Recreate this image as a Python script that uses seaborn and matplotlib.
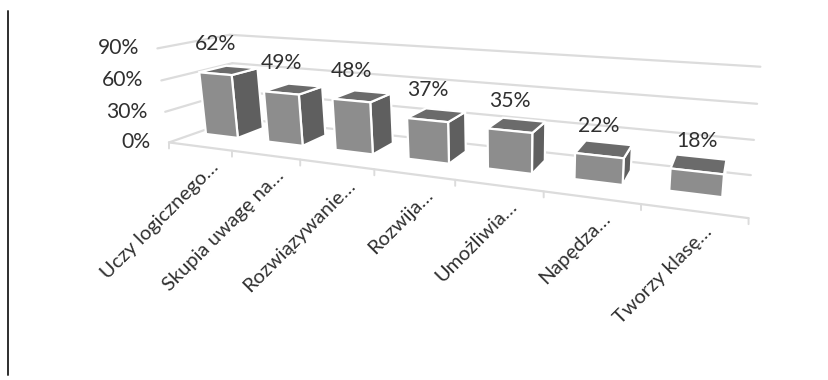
import numpy as np
import pandas as pd
import matplotlib
matplotlib.use("Agg")
import matplotlib.pyplot as plt
from matplotlib.patches import Polygon
from matplotlib.transforms import Transform, IdentityTransform
import seaborn as sns

# ---- data
categories = ["Uczy logicznego…", "Skupia uwagę na…", "Rozwiązywanie…", "Rozwija…",
              "Umożliwia…", "Napędza…", "Tworzy klasę…"]
shares = [62, 49, 48, 37, 35, 22, 18]
value_ticks = [0, 30, 60, 90]

# ---- camera of the 3-D box: (category edge, value, depth) -> pixel
U = len(categories)
calib = [((0, 0, 0), (169, 142)), ((2, 0, 0), (300, 159)), ((4, 0, 0), (455, 179.5)), ((7, 0, 0), (749, 218)),
         ((0, 30, 0), (165, 112)), ((0, 60, 0), (162, 81)), ((0, 90, 0), (157, 49)),
         ((0, 0, 1), (238, 120)), ((0, 30, 1), (235, 90)), ((0, 60, 1), (232, 63)), ((0, 90, 1), (230, 34)),
         ((7, 0, 1), (750, 175)), ((7, 30, 1), (755, 140)), ((7, 60, 1), (757, 104)), ((7, 90, 1), (760, 67))]
rows = []
for (a, b, c), (px, py) in calib:
    X = [a / 7, b / 90, c, 1]
    px, py = px / 400, py / 400
    rows.append(X + [0, 0, 0, 0] + [-px * k for k in X])
    rows.append([0, 0, 0, 0] + X + [-py * k for k in X])
P = np.linalg.svd(np.array(rows))[2][-1].reshape(3, 4)


def project(u, v, d):
    u = np.asarray(u, float)
    X = np.stack([u / 7, np.asarray(v, float) / 90, np.full_like(u, d), np.ones_like(u)])
    h = P @ X
    return (h[:2] / h[2] * 400).T


H = 380
PIX = IdentityTransform()
BAR_SHIFT = -0.08


def nudge(u):
    """Bars sit slightly left of their category centres, fading to the right."""
    return np.asarray(u, float) + BAR_SHIFT * (1 - np.asarray(u, float) / 9)


class Box(Transform):
    """Seaborn's (category, value) coordinates -> display, on one depth plane."""
    input_dims = output_dims = 2

    def __init__(self, plane, bars=False):
        super().__init__()
        self.plane = plane
        self.bars = bars

    def transform_non_affine(self, xy):
        xy = np.asarray(xy, float)
        u = xy[:, 0] + 0.5
        p = project(nudge(u) if self.bars else u, xy[:, 1], self.plane)
        return np.column_stack([p[:, 0], H - p[:, 1]])


FRONT, BACK = 0.37, 0.76
FACE, SIDE, TOP = "#8d8d8d", "#5f5f5f", "#6b6b6b"
GRID, INK = "#dcdcdc", "#303030"

sns.set_style("white")
plt.rcParams["font.family"] = ["Lato", "DejaVu Sans"]
fig = plt.figure(figsize=(8.29, 3.80), dpi=100)
ax = fig.add_axes([0, 0, 1, 1])
df = pd.DataFrame({"item": categories, "share": shares})
sns.barplot(data=df, x="item", y="share", color=FACE, saturation=1, width=0.52,
            edgecolor="white", linewidth=1.6, ax=ax, zorder=4)
ax.set_xlim(-0.5, 6.5)
ax.set_ylim(0, 90)
ax.axis("off")


def wall_line(points, width=1.6):
    ax.add_line(plt.Line2D(points[:, 0], H - points[:, 1], color=GRID, lw=width, transform=PIX, zorder=1,
                           clip_on=False))


# walls and floor
for v in value_ticks:
    corner_front = project([0.0], [v], 0)
    corner_back = project([0.0], [v], 1)
    wall_line(np.vstack([corner_front, corner_back]))
    wall_line(project([0.0, 7.0], [v, v], 1))
    ax.annotate(f"{v}%", xy=(-0.5, v), xycoords=Box(0), xytext=(-18 * .72, 0), textcoords="offset points",
                ha="right", va="center", fontsize=15.2, color=INK, annotation_clip=False)

wall_line(project([0.0, 7.0], [0.0, 0.0], 0))
for i in range(U + 1):
    ax.annotate("", xy=(i - 0.5, 0), xycoords=Box(0), xytext=(0, -6 * .72), textcoords="offset points",
                arrowprops=dict(arrowstyle="-", color=GRID, lw=1.4, shrinkA=0, shrinkB=0), annotation_clip=False)


def pts(us, vs, ds):
    return np.vstack([project([a], [b], c) for a, b, c in zip(us, vs, ds)])


# bars: seaborn's rectangles are the front faces; side and top follow from them
for i, (bar, name, val) in enumerate(zip(list(ax.patches), categories, shares)):
    x0, x1, v = bar.get_x(), bar.get_x() + bar.get_width(), bar.get_height()
    bar.set_transform(Box(FRONT, bars=True))
    bar.set_clip_on(False)
    u0, u1 = float(nudge(x0 + 0.5)), float(nudge(x1 + 0.5))

    side = pts([u1, u1, u1, u1], [0, 0, v, v], [FRONT, BACK, BACK, FRONT])
    top = pts([u0, u1, u1, u0], [v, v, v, v], [FRONT, FRONT, BACK, BACK])
    for poly, col in ((side, SIDE), (top, TOP)):
        xy = np.column_stack([poly[:, 0], H - poly[:, 1]])
        ax.add_patch(Polygon(xy, closed=True, facecolor=col, edgecolor="white", linewidth=1.6,
                             transform=PIX, zorder=3, clip_on=False))

    ax.annotate(f"{val}%", xy=(i, val), xycoords=Box(FRONT, bars=True), xytext=(0, 30 * .72), textcoords="offset points",
                ha="center", va="center", fontsize=15.2, color=INK, annotation_clip=False, zorder=6)
    ax.annotate(name, xy=(i, 0), xycoords=Box(0), xytext=(16 * .72, -18 * .72), textcoords="offset points",
                ha="right", va="center", rotation=45, rotation_mode="anchor", fontsize=14.5, color=INK,
                annotation_clip=False)

# scanned page margin
ax.add_line(plt.Line2D([8, 8], [H - 11, H - 375], color="#2e2e2e", lw=1.4, transform=PIX, clip_on=False))

fig.savefig("out.png", dpi=100, facecolor="white")
